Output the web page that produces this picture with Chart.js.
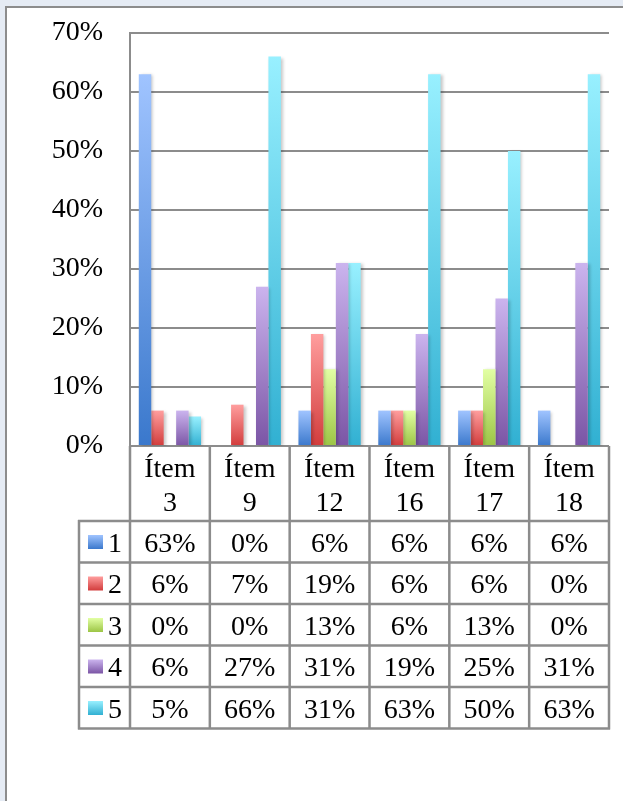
<!DOCTYPE html>
<html>
<head>
<meta charset="utf-8">
<script src="https://cdn.jsdelivr.net/npm/chart.js@4.4.1/dist/chart.umd.min.js"></script>
<style>
html, body { margin: 0; padding: 0; background: #e5ebf4; overflow: hidden; font-family: "Liberation Serif", serif; }
#frame { position: absolute; left: 5px; top: 6px; width: 660px; height: 840px; background: #fff;
         border-left: 2px solid #8c8c8c; border-top: 2px solid #8c8c8c; }
#myChart { position: absolute; left: 0; top: 0; }
</style>
</head>
<body>
<div id="frame"></div>
<canvas id="myChart" width="623" height="801"></canvas>
<script>
// Data (percent)
const categories = ['Ítem 3', 'Ítem 9', 'Ítem 12', 'Ítem 16', 'Ítem 17', 'Ítem 18'];
const seriesNames = ['1', '2', '3', '4', '5'];
const values1 = [63, 0, 6, 6, 6, 6];
const values2 = [6, 7, 19, 6, 6, 0];
const values3 = [0, 0, 13, 6, 13, 0];
const values4 = [6, 27, 31, 19, 25, 31];
const values5 = [5, 66, 31, 63, 50, 63];
const yTicks = [0, 10, 20, 30, 40, 50, 60, 70];

const allValues = [values1, values2, values3, values4, values5];
// top / bottom gradient colours per series
const colors = [
    ['#a0c4ff', '#3a78cc'],
    ['#ff9e9e', '#d23c3c'],
    ['#e2ffa4', '#9cc545'],
    ['#cbb4ee', '#7b55a5'],
    ['#98f0ff', '#31b0d2']
];

const FONT = "'Times New Roman', 'Liberation Serif', 'DejaVu Serif', serif";
const GRID = '#8c8c8c';

function barGradient(s) {
    return (c) => {
        const chart = c.chart;
        if (c.type !== 'data' || !chart.chartArea) return colors[s][0];
        const y = chart.scales.y;
        const top = y.getPixelForValue(c.raw);
        const base = y.getPixelForValue(0);
        if (base - top < 1) return colors[s][1];
        const g = chart.ctx.createLinearGradient(0, top, 0, base);
        g.addColorStop(0, colors[s][0]);
        g.addColorStop(1, colors[s][1]);
        return g;
    };
}

// soft shadow to the right of the bars
const shadowPlugin = {
    id: 'barShadow',
    beforeDatasetsDraw(chart) {
        const c = chart.ctx;
        c.save();
        c.shadowColor = 'rgba(0,0,0,0.22)';
        c.shadowBlur = 3;
        c.shadowOffsetX = 2;
        c.shadowOffsetY = 1;
    },
    afterDatasetsDraw(chart) {
        chart.ctx.restore();
    }
};

// data table under the plot
const tablePlugin = {
    id: 'dataTable',
    afterDraw(chart) {
        const { ctx, chartArea, scales: { x } } = chart;
        const left = chartArea.left, right = chartArea.right, top = chartArea.bottom;
        const n = categories.length;
        const colW = (right - left) / n;
        const headBottom = top + 75;
        const rowH = 41.5;
        const keyLeft = 79;
        const bottom = headBottom + rowH * seriesNames.length;

        ctx.save();
        ctx.strokeStyle = GRID;
        ctx.lineWidth = 2.5;
        ctx.beginPath();
        for (let r = 0; r <= seriesNames.length; r++) {
            const yy = headBottom + r * rowH;
            ctx.moveTo(keyLeft - 1, yy);
            ctx.lineTo(right + 1, yy);
        }
        for (let c = 0; c <= n; c++) {
            const xx = left + c * colW;
            ctx.moveTo(xx, top);
            ctx.lineTo(xx, bottom + 1);
        }
        ctx.moveTo(keyLeft, headBottom - 1);
        ctx.lineTo(keyLeft, bottom + 1);
        ctx.stroke();

        ctx.fillStyle = '#000';
        ctx.font = '28px ' + FONT;
        ctx.textAlign = 'center';
        ctx.textBaseline = 'alphabetic';
        categories.forEach((cat, i) => {
            const cx = x.getPixelForValue(i);
            const parts = cat.split(' ');
            ctx.fillText(parts[0], cx, top + 31);
            ctx.fillText(parts[1], cx, top + 65);
        });

        seriesNames.forEach((name, s) => {
            const rowTop = headBottom + s * rowH;
            const g = ctx.createLinearGradient(0, rowTop + 14, 0, rowTop + 28);
            g.addColorStop(0, colors[s][0]);
            g.addColorStop(1, colors[s][1]);
            ctx.fillStyle = g;
            ctx.fillRect(88, rowTop + 14, 15, 14);
            ctx.fillStyle = '#000';
            ctx.textAlign = 'left';
            ctx.fillText(name, 108, rowTop + 30.5);
            ctx.textAlign = 'center';
            allValues[s].forEach((v, i) => {
                ctx.fillText(v + '%', x.getPixelForValue(i), rowTop + 30.5);
            });
        });
        ctx.restore();
    }
};

const ctx = document.getElementById('myChart').getContext('2d');

const data = {
    labels: categories,
    datasets: seriesNames.map((name, s) => ({
        label: name,
        data: allValues[s],
        backgroundColor: barGradient(s),
        borderWidth: 0,
        categoryPercentage: 0.78,
        barPercentage: 1.0
    }))
};

const config = {
    type: 'bar',
    data: data,
    options: {
        responsive: false,
        animation: false,
        layout: { padding: { top: 33, right: 14, bottom: 355, left: 0 } },
        plugins: {
            legend: { display: false },
            tooltip: { enabled: false }
        },
        scales: {
            x: { display: false },
            y: {
                min: 0,
                max: 70,
                afterFit: (scale) => { scale.width = 130; scale.paddingTop = 0; scale.paddingBottom = 0; },
                afterBuildTicks: (scale) => { scale.ticks = yTicks.map(v => ({ value: v })); },
                border: { display: true, color: GRID, width: 2 },
                grid: { color: GRID, lineWidth: 2, drawTicks: false },
                ticks: {
                    padding: 27,
                    color: '#000',
                    font: { family: FONT, size: 28 },
                    callback: (v) => v + '%'
                }
            }
        }
    },
    plugins: [shadowPlugin, tablePlugin]
};

const myChart = new Chart(ctx, config);
</script>
</body>
</html>
